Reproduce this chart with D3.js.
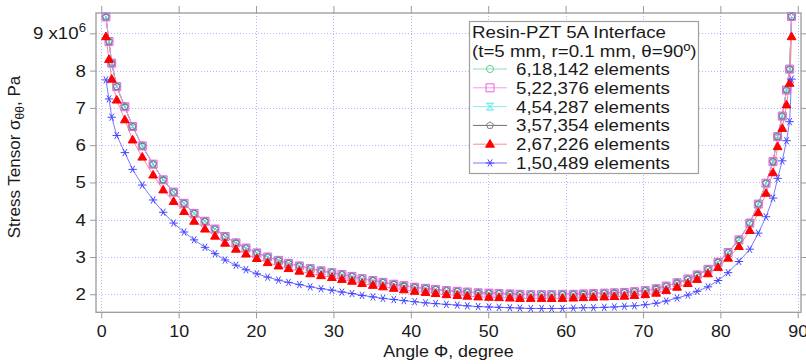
<!DOCTYPE html>
<html>
<head>
<meta charset="utf-8">
<script src="https://cdn.jsdelivr.net/npm/d3@7"></script>
<style>
  body { margin: 0; background: #fff; }
  text { font-family: "Liberation Sans", Arial, sans-serif; fill: #1a1a1a; }
</style>
</head>
<body>
<svg id="chart" width="806" height="364"></svg>
<script>
// angle of each node along the interface, degree
const angles = [0.6, 1.0, 1.35, 2.0, 3.05, 4.05, 5.3, 6.7, 8.0, 9.35, 10.7, 12.0, 13.4, 14.7, 16.0,
  17.4, 18.7, 20.1, 21.5, 22.9, 24.2, 25.6, 27.0, 28.4, 29.8, 31.1, 32.4, 33.7, 35.1, 36.4, 37.8,
  39.1, 40.5, 41.9, 43.2, 44.6, 46.0, 47.3, 48.7, 50.1, 51.4, 52.8, 54.1, 55.5, 56.9, 58.2, 59.6,
  61.0, 62.3, 63.6, 65.0, 66.3, 67.6, 68.9, 70.3, 71.7, 73.0, 74.4, 75.8, 77.0, 78.4, 79.7, 81.0,
  82.4, 83.8, 84.9, 85.9, 86.8, 87.4, 88.0, 88.55, 88.95, 89.2];

// stress, x10^6 Pa. The four finest meshes plot on top of each other.
const fineMesh = [9.44, 8.78, 8.20, 7.57, 7.03, 6.50, 5.98, 5.49, 5.07, 4.74, 4.44, 4.17, 3.96, 3.75, 3.55,
  3.38, 3.24, 3.11, 3.00, 2.91, 2.83, 2.76, 2.69, 2.63, 2.58, 2.53, 2.48, 2.42, 2.37, 2.32, 2.27,
  2.23, 2.19, 2.16, 2.13, 2.10, 2.08, 2.06, 2.04, 2.03, 2.02, 2.01, 2.00, 1.99, 1.99, 1.99, 2.00,
  2.00, 2.01, 2.02, 2.03, 2.04, 2.05, 2.07, 2.10, 2.15, 2.22, 2.31, 2.41, 2.52, 2.67, 2.86, 3.12,
  3.46, 3.91, 4.42, 4.98, 5.56, 6.23, 6.78, 7.48, 8.04, 9.45];
const elems618142 = fineMesh;
const elems522376 = fineMesh;
const elems454287 = fineMesh;
const elems357354 = fineMesh;
const elems267226 = [8.91, 8.30, 7.77, 7.21, 6.68, 6.14, 5.68, 5.20, 4.80, 4.49, 4.22, 3.96, 3.75, 3.56, 3.37,
  3.21, 3.08, 2.96, 2.85, 2.76, 2.69, 2.62, 2.55, 2.50, 2.45, 2.40, 2.35, 2.29, 2.24, 2.20, 2.16,
  2.12, 2.08, 2.05, 2.02, 1.99, 1.97, 1.95, 1.93, 1.92, 1.91, 1.90, 1.89, 1.89, 1.89, 1.89, 1.89,
  1.90, 1.91, 1.92, 1.93, 1.94, 1.95, 1.97, 1.99, 2.03, 2.10, 2.19, 2.29, 2.40, 2.55, 2.72, 2.97,
  3.28, 3.71, 4.19, 4.71, 5.26, 5.96, 6.45, 7.08, 7.66, 8.91];
const elems150489 = [7.75, 7.24, 6.75, 6.26, 5.80, 5.35, 4.93, 4.53, 4.20, 3.91, 3.67, 3.46, 3.26, 3.09, 2.92,
  2.78, 2.66, 2.55, 2.46, 2.38, 2.32, 2.26, 2.20, 2.15, 2.11, 2.06, 2.02, 1.97, 1.93, 1.89, 1.86,
  1.83, 1.80, 1.77, 1.75, 1.73, 1.71, 1.69, 1.67, 1.66, 1.65, 1.64, 1.63, 1.62, 1.62, 1.62, 1.62,
  1.63, 1.64, 1.64, 1.65, 1.66, 1.68, 1.69, 1.72, 1.76, 1.82, 1.90, 1.98, 2.08, 2.20, 2.37, 2.58,
  2.88, 3.21, 3.64, 4.08, 4.58, 5.11, 5.58, 6.12, 6.63, 7.77];

const seriesNames = ["6,18,142 elements", "5,22,376 elements", "4,54,287 elements",
  "3,57,354 elements", "2,67,226 elements", "1,50,489 elements"];
const xTicks = [0, 10, 20, 30, 40, 50, 60, 70, 80, 90];
const yTicks = [2, 3, 4, 5, 6, 7, 8, 9];

const series = [
  { name: seriesNames[0], values: elems618142, shape: "circle", stroke: "#5fcf96", line: "#8fe0b8", fill: "none" },
  { name: seriesNames[1], values: elems522376, shape: "square", stroke: "#ee5ee6", line: "#f59af0", fill: "none" },
  { name: seriesNames[2], values: elems454287, shape: "hourglass", stroke: "#3ee6ec", line: "#86f0f2", fill: "none" },
  { name: seriesNames[3], values: elems357354, shape: "pentagon", stroke: "#808080", line: "#6e6e6e", fill: "none" },
  { name: seriesNames[4], values: elems267226, shape: "triangle", stroke: "#ff0000", line: "#ff8a8a", fill: "#ff0000" },
  { name: seriesNames[5], values: elems150489, shape: "asterisk", stroke: "#4646ff", line: "#7a7aff", fill: "none" }
];
// drawing order in the plot: the square sits on top of the converged stack
const drawOrder = [0, 2, 3, 1, 4, 5];

const svg = d3.select("#chart");
const pLeft = 96, pRight = 801, pTop = 13, pBottom = 312.3;

const x = d3.scaleLinear().domain([-0.68, 90.42]).range([pLeft, pRight]);
const y = d3.scaleLinear().domain([1.517, 9.545]).range([pBottom, pTop]);

// stretch text a little wider, the original was drawn that way
function stretch(sel, k) {
  sel.each(function () {
    const w = this.getComputedTextLength();
    d3.select(this).attr("textLength", w * k).attr("lengthAdjust", "spacingAndGlyphs");
  });
}

// grid
const grid = svg.append("g").attr("stroke", "#b4b4ff").attr("stroke-width", 1).attr("stroke-dasharray", "1,2");
grid.selectAll(".gx").data(xTicks).enter().append("line")
  .attr("x1", d => Math.round(x(d)) + 0.5).attr("x2", d => Math.round(x(d)) + 0.5)
  .attr("y1", pTop).attr("y2", pBottom);
grid.selectAll(".gy").data(yTicks).enter().append("line")
  .attr("y1", d => Math.round(y(d)) + 0.5).attr("y2", d => Math.round(y(d)) + 0.5)
  .attr("x1", pLeft).attr("x2", pRight);

// axes, ticks pointing outward on all four sides
const frameColor = "#9a9a9a";
const axB = svg.append("g").attr("transform", `translate(0,${pBottom})`)
  .call(d3.axisBottom(x).tickValues(xTicks).tickSize(6).tickPadding(7).tickSizeOuter(0));
const axT = svg.append("g").attr("transform", `translate(0,${pTop})`)
  .call(d3.axisTop(x).tickValues(xTicks).tickSize(7).tickFormat("").tickSizeOuter(0));
const axL = svg.append("g").attr("transform", `translate(${pLeft},0)`)
  .call(d3.axisLeft(y).tickValues(yTicks).tickSize(6).tickPadding(4).tickSizeOuter(0));
const axR = svg.append("g").attr("transform", `translate(${pRight},0)`)
  .call(d3.axisRight(y).tickValues(yTicks).tickSize(6).tickFormat("").tickSizeOuter(0));
[axB, axT, axL, axR].forEach(a => {
  a.select(".domain").remove();
  a.selectAll("line").attr("stroke", frameColor);
  a.selectAll("text").style("font-size", "17px").attr("fill", "#1a1a1a")
    .style("font-family", '"Liberation Sans", Arial, sans-serif');
});
svg.append("rect").attr("x", pLeft).attr("y", pTop).attr("width", pRight - pLeft).attr("height", pBottom - pTop)
  .attr("fill", "none").attr("stroke", frameColor).attr("stroke-width", 1.3);

// top y label carries the exponent
axL.selectAll(".tick text").filter(d => d === 9).text(null).call(t => {
  t.append("tspan").text("9 x10");
  t.append("tspan").attr("dy", -7).style("font-size", "12px").text("6");
});
stretch(axL.selectAll(".tick text"), 1.1);
stretch(axB.selectAll(".tick text"), 1.05);

// symbols
const symPath = {
  circle: d3.symbol(d3.symbolCircle, 40)(),
  square: "M-4,-4H4V4H-4Z",
  triangle: "M0,-4.6L4.4,3L-4.4,3Z",
  hourglass: "M-3.4,-3.4H3.4L-3.4,3.4H3.4Z",
  pentagon: d3.range(5).map(i => {
    const a = -Math.PI / 2 + i * 2 * Math.PI / 5;
    return (i ? "L" : "M") + (3.6 * Math.cos(a)).toFixed(2) + "," + (3.6 * Math.sin(a)).toFixed(2);
  }).join("") + "Z",
  asterisk: "M-4.2,0H4.2M-2.1,-3.6L2.1,3.6M2.1,-3.6L-2.1,3.6"
};

const line = d3.line().x((d, i) => x(angles[i])).y(d => y(d));
const plot = svg.append("g");
drawOrder.forEach(k => {
  const s = series[k];
  plot.append("path").datum(s.values).attr("d", line)
    .attr("fill", "none").attr("stroke", s.line).attr("stroke-width", 1);
});
drawOrder.forEach(k => {
  const s = series[k];
  plot.append("g").selectAll("path").data(s.values).enter().append("path")
    .attr("transform", (d, i) => `translate(${x(angles[i])},${y(d)})`)
    .attr("d", symPath[s.shape])
    .attr("fill", s.fill).attr("stroke", s.stroke).attr("stroke-width", s.shape === "pentagon" ? 1.3 : 1);
});

// legend
const lg = svg.append("g");
lg.append("rect").attr("x", 469.5).attr("y", 21.5).attr("width", 229).attr("height", 152)
  .attr("fill", "#fff").attr("stroke", "#a0a0a0").attr("stroke-width", 1.2);
const title1 = lg.append("text").attr("x", 472).attr("y", 37.5).style("font-size", "17px").text("Resin-PZT 5A Interface");
const title2 = lg.append("text").attr("x", 472).attr("y", 56.5).style("font-size", "17px").text("(t=5 mm, r=0.1 mm, θ=90º)");
stretch(title1, 1.1);
stretch(title2, 1.1);
series.forEach((s, i) => {
  const cy = 69 + i * 18.8;
  lg.append("line").attr("x1", 473).attr("x2", 507).attr("y1", cy).attr("y2", cy)
    .attr("stroke", s.line).attr("stroke-width", 1);
  lg.append("path").attr("transform", `translate(490,${cy})`).attr("d", symPath[s.shape])
    .attr("fill", s.fill).attr("stroke", s.stroke).attr("stroke-width", 1);
  const t = lg.append("text").attr("x", 516).attr("y", cy + 6).style("font-size", "17px").text(s.name);
  stretch(t, 1.1);
});

// axis titles
const xt = svg.append("text").attr("x", (pLeft + pRight) / 2).attr("y", 357).attr("text-anchor", "middle")
  .style("font-size", "17px").text("Angle Φ, degree");
stretch(xt, 1.05);
const yt = svg.append("text").attr("transform", "translate(20,157) rotate(-90)").attr("text-anchor", "middle")
  .style("font-size", "17px");
yt.append("tspan").text("Stress Tensor σ");
yt.append("tspan").attr("dy", 4).style("font-size", "12px").text("θθ");
yt.append("tspan").attr("dy", -4).text(", Pa");
</script>
</body>
</html>
